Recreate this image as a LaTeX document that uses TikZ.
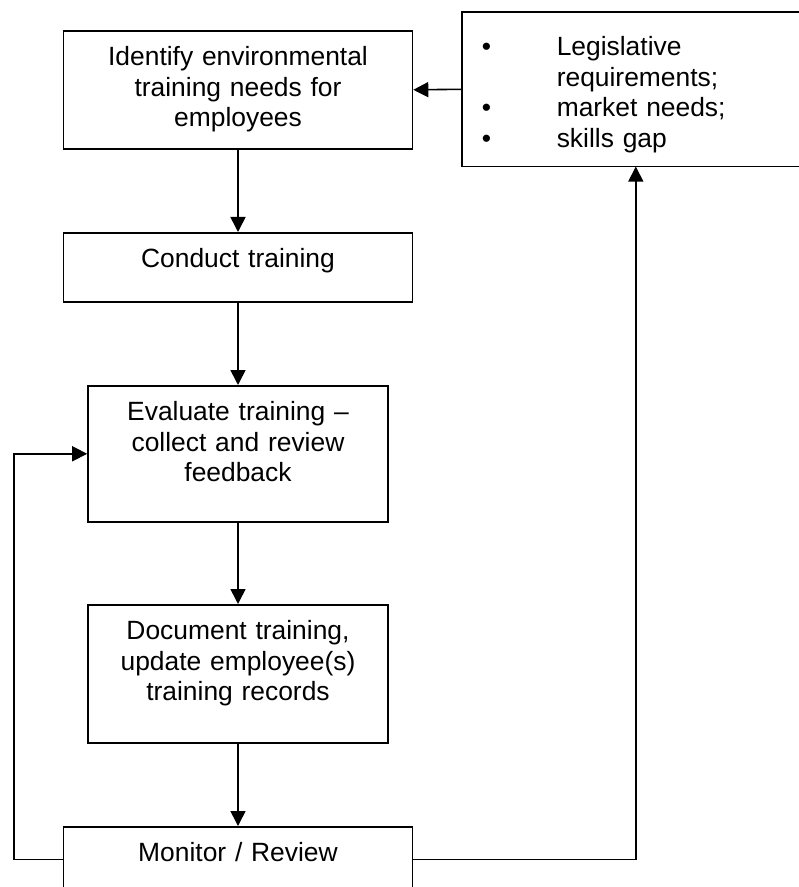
\documentclass[tikz,border=0pt]{standalone}
\usepackage{fontspec}
\setmainfont{Liberation Sans}
\usepackage{tikz}
\usetikzlibrary{arrows.meta,positioning}
\tikzstyle{etape}=[draw, line width=0.8pt, align=center, anchor=north, inner xsep=0pt, inner ysep=0pt, text height=17.5pt, font=\fontsize{13.2}{15.25}\selectfont]
\tikzstyle{fleche}=[-{Triangle[length=7.5pt,width=7.5pt]}, line width=0.8pt]
\newcommand{\puce}{\makebox[47pt][l]{\hspace{9.5pt}\textbullet}}

\begin{document}
\begin{tikzpicture}[x=0.5pt,y=-0.5pt]

\useasboundingbox (0,0) rectangle (798,887);

% etapes
\node[etape, text width=174.5pt, text depth=41.5pt] (ident) at (238,30) {Identify environmental\\training needs for\\employees};
\node[etape, text width=174.5pt, text depth=17pt] (cond) at (238,232) {Conduct training};
\node[etape, text width=150pt, text depth=50.5pt] (eval) at (238,385) {Evaluate training \textendash\\collect and review\\feedback};
\node[etape, text width=150pt, text depth=51.5pt] (doc) at (238,604) {Document training,\\update employee(s)\\training records};
\node[etape, text width=174.5pt, text depth=15pt] (mon) at (238,826) {Monitor / Review};

% besoins (bord droit hors cadre)
\node[etape, draw=none, anchor=north west, align=left, text width=173pt, text height=21.5pt, text depth=55pt] (besoins) at (462,12) {\puce Legislative\\\hspace*{47pt}requirements;\\\puce market needs;\\\puce skills gap};
\draw[line width=0.8pt] (besoins.north east) -- (besoins.north west) -- (besoins.south west) -- (besoins.south east);

% fleches
\draw[fleche] (ident) -- (cond);
\draw[fleche] (cond) -- (eval);
\draw[fleche] (eval) -- (doc);
\draw[fleche] (doc) -- (mon);
\draw[fleche] (besoins.west) -- (ident.east);

% boucles
\draw[fleche] (mon.west) -- ++(-49,0) |- (eval.west);
\draw[fleche] (mon.east) -| (besoins.south);

\end{tikzpicture}
\end{document}
